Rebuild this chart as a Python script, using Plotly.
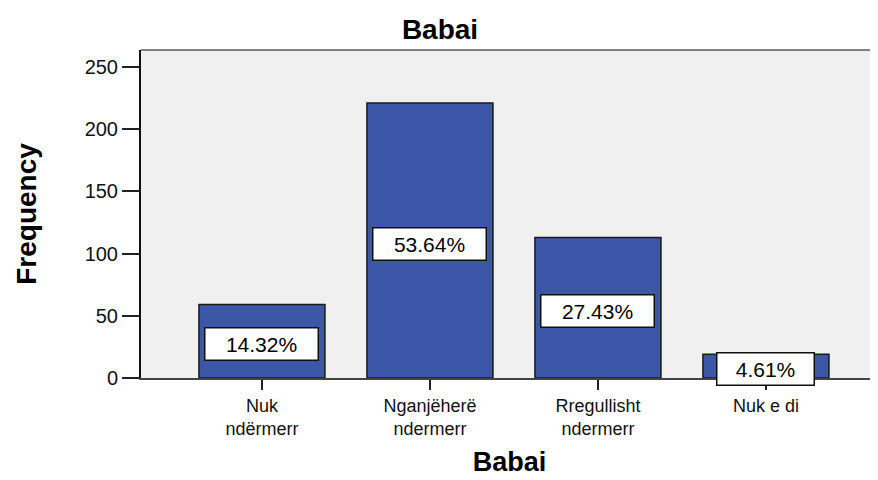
import plotly.graph_objects as go

# ---- data ----
categories = ["Nuk<br>ndërmerr", "Nganjëherë<br>ndermerr", "Rregullisht<br>ndermerr", "Nuk e di"]
frequencies = [59, 221, 113, 19]
percent_labels = ["14.32%", "53.64%", "27.43%", "4.61%"]
y_ticks = [0, 50, 100, 150, 200, 250]

chart_title = "Babai"
x_title = "Babai"
y_title = "Frequency"

BAR = "rgb(60,86,168)"
FONT = "Liberation Sans, Arial, sans-serif"

fig = go.Figure()
fig.add_trace(go.Bar(
    x=list(range(len(categories))),
    y=frequencies,
    width=0.75,
    marker=dict(color=BAR, line=dict(color="#1a1a1a", width=1.5)),
    hoverinfo="skip",
    showlegend=False,
))

for i, (v, lab) in enumerate(zip(frequencies, percent_labels)):
    fig.add_annotation(
        x=i, y=v / 2, xref="x", yref="y",
        text=lab, showarrow=False,
        font=dict(family=FONT, size=21, color="black"),
        bgcolor="white", bordercolor="#111", borderwidth=1.5,
        width=16 * len(lab) + 14, height=29, borderpad=1,
        yshift=-3,
    )

# top border of the plot area
fig.add_shape(type="line", xref="paper", yref="paper", x0=0, x1=1, y0=1, y1=1,
              line=dict(color="#808080", width=2))

fig.update_layout(
    width=878, height=480,
    margin=dict(l=133, r=8, t=42, b=110, autoexpand=False),
    paper_bgcolor="white",
    plot_bgcolor="#f0f0f0",
    font=dict(family=FONT, color="black"),
    title=dict(text=chart_title, x=432 / 878, xanchor="center",
               y=1 - 21 / 480, yanchor="middle", yref="container",
               font=dict(family=FONT, size=28, color="black", weight="bold")),
    xaxis=dict(
        range=[-0.72, 3.667], automargin=False,
        tickmode="array", tickvals=list(range(len(categories))), ticktext=categories,
        tickfont=dict(family=FONT, size=18, color="#111"),
        ticks="outside", ticklen=10, tickwidth=2, tickcolor="#222",
        showline=True, linecolor="#444", linewidth=2,
        showgrid=False, zeroline=False,
        title=dict(text=x_title, standoff=14,
                   font=dict(family=FONT, size=27, color="black", weight="bold")),
    ),
    yaxis=dict(
        range=[0, 263.7], automargin=False,
        tickmode="array", tickvals=y_ticks,
        tickfont=dict(family=FONT, size=20, color="#111"),
        ticks="outside", ticklen=17, tickwidth=2, tickcolor="#222",
        showline=True, linecolor="#111", linewidth=2,
        showgrid=False, zeroline=False,
        title=dict(text=y_title, standoff=40,
                   font=dict(family=FONT, size=28, color="black", weight="bold")),
    ),
    bargap=0.25,
)

fig.write_html("out.html")
